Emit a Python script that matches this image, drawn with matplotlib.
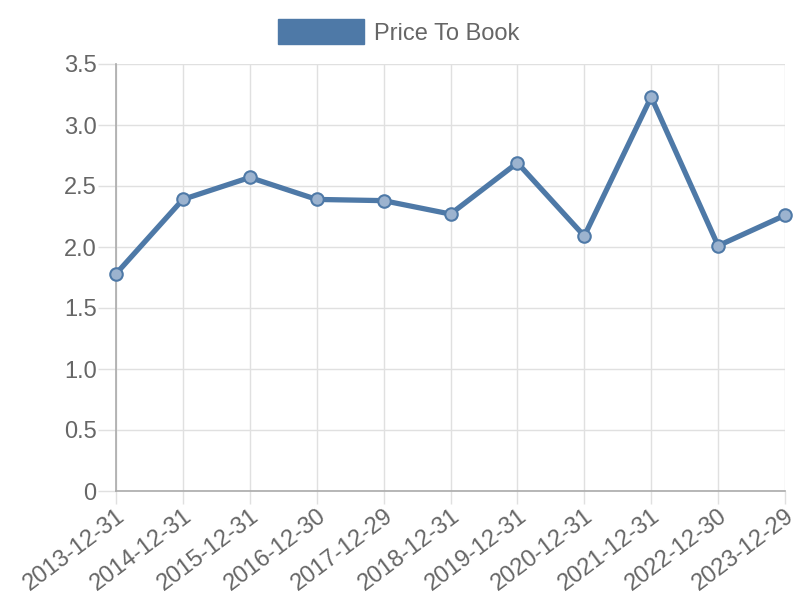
import matplotlib
matplotlib.use("Agg")
import matplotlib.pyplot as plt
from matplotlib.patches import Patch

dates = ["2013-12-31", "2014-12-31", "2015-12-31", "2016-12-30", "2017-12-29",
         "2018-12-31", "2019-12-31", "2020-12-31", "2021-12-31", "2022-12-30",
         "2023-12-29"]
price_to_book = [1.78, 2.39, 2.57, 2.39, 2.38, 2.27, 2.69, 2.09, 3.23, 2.01, 2.26]
y_ticks = [0, 0.5, 1.0, 1.5, 2.0, 2.5, 3.0, 3.5]
y_labels = ["0", "0.5", "1.0", "1.5", "2.0", "2.5", "3.0", "3.5"]

plt.rcParams["font.family"] = ["Liberation Sans", "DejaVu Sans"]
line_col = "#4e79a7"
text_col = "#666666"
grid_col = "#e0e0e0"

fig = plt.figure(figsize=(8, 6), dpi=100)
ax = fig.add_axes([116 / 800, 109 / 600, 669 / 800, 427 / 600])

x = list(range(len(dates)))
ax.plot(x, price_to_book, color=line_col, lw=3.8, zorder=3, clip_on=False,
        solid_joinstyle="miter")
ax.plot(x, price_to_book, ls="none", marker="o", ms=9, mfc="#9cb3cf",
        mec=line_col, mew=1.5, zorder=4, clip_on=False)

ax.set_xlim(0, len(dates) - 1)
ax.set_ylim(0, 3.5)
ax.set_xticks(x)
ax.set_xticklabels(dates, rotation=37, ha="right", rotation_mode="anchor")
ax.set_yticks(y_ticks)
ax.set_yticklabels(y_labels)

ax.grid(True, color=grid_col, lw=1)
ax.set_axisbelow(True)
ax.tick_params(axis="both", colors=grid_col, width=1, labelcolor=text_col, pad=1)
ax.tick_params(axis="x", labelsize=17, length=9)
ax.tick_params(axis="y", labelsize=17, length=13)
for side in ["top", "right"]:
    ax.spines[side].set_visible(False)
for side in ["left", "bottom"]:
    ax.spines[side].set_color("#aaaaaa")
    ax.spines[side].set_linewidth(1.2)

handle = Patch(facecolor=line_col, edgecolor=line_col)
fig.legend([handle], ["Price To Book"], loc="center", bbox_to_anchor=(0.498, 1 - 32 / 600),
           frameon=False, fontsize=17, labelcolor=text_col, handlelength=3.64,
           handleheight=1.27, handletextpad=0.42, borderpad=0)

fig.savefig("out.png", dpi=100)
